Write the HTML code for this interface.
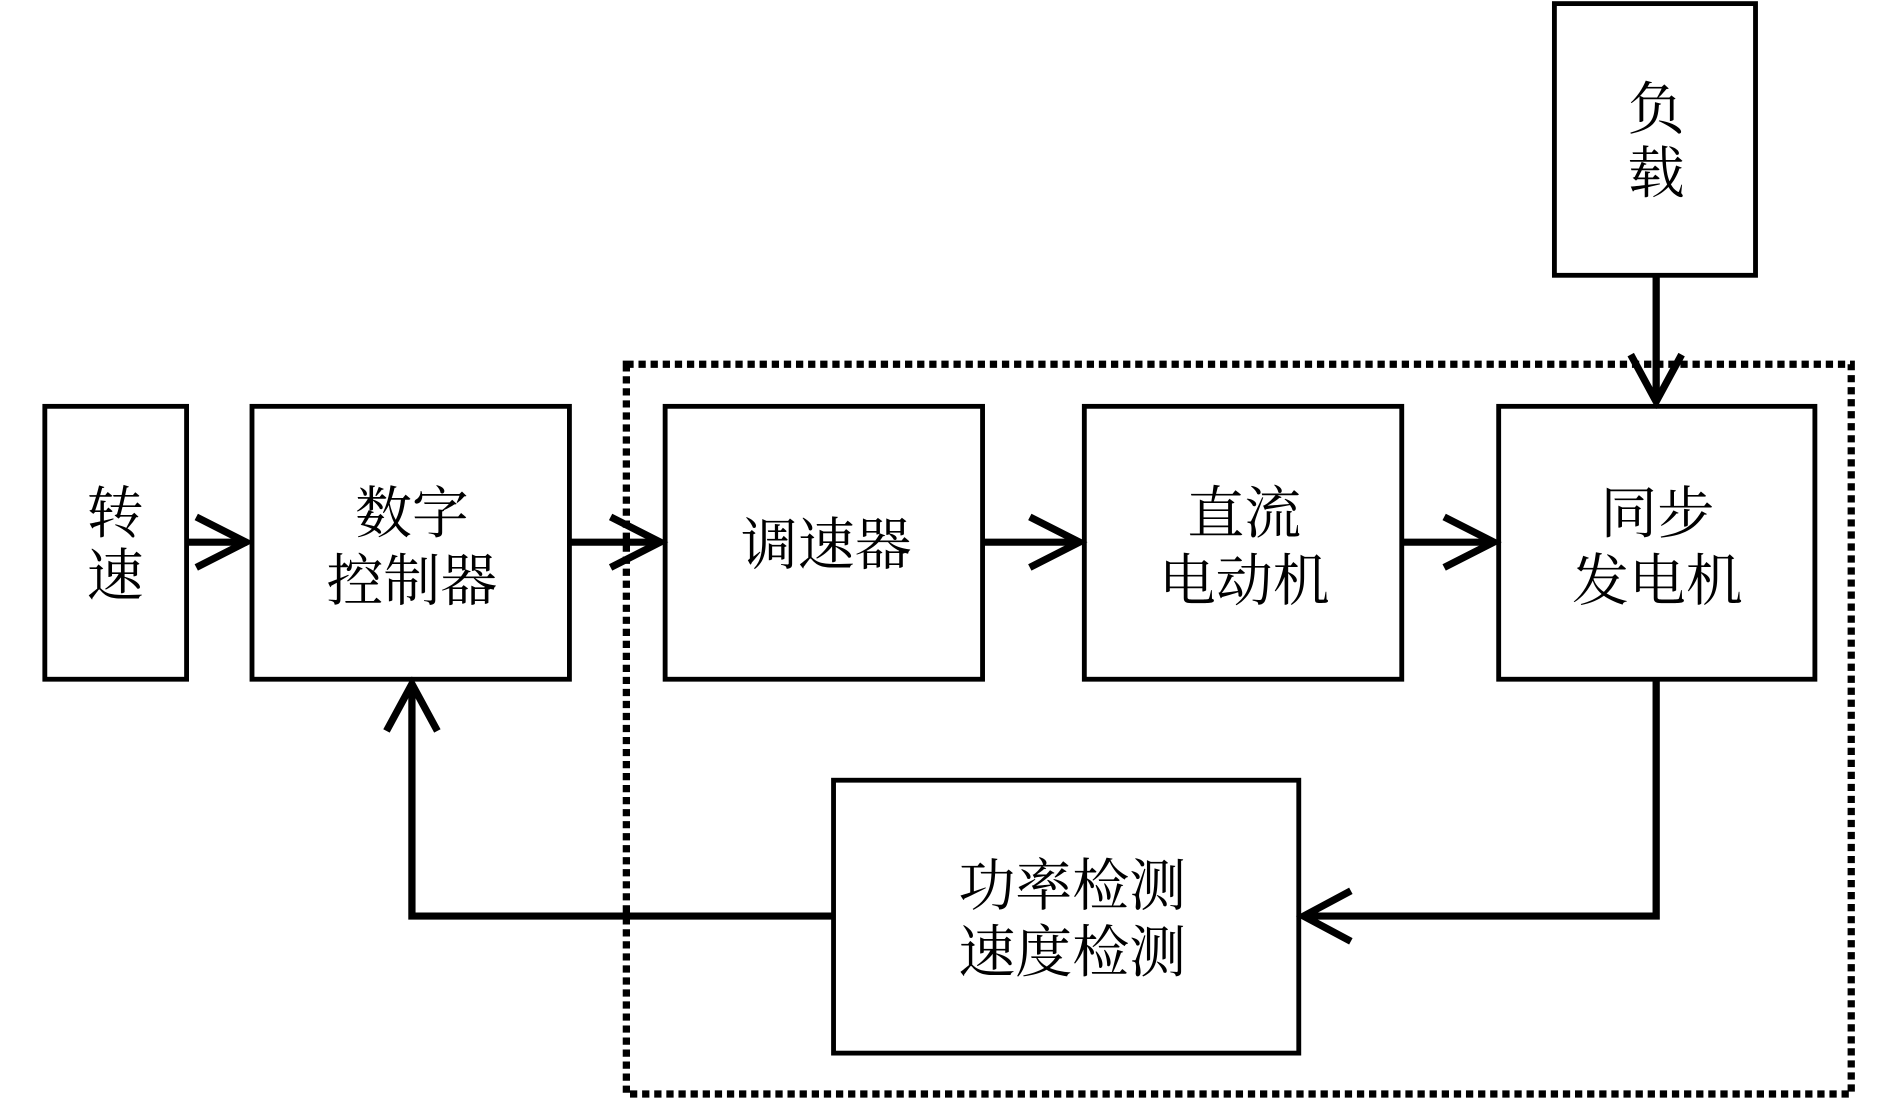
<!DOCTYPE html>
<html><head><meta charset="utf-8"><style>
html,body{margin:0;padding:0;background:#fff;width:1890px;height:1100px;overflow:hidden}
svg{display:block}
text{font-family:"Liberation Serif","Noto Serif CJK SC",serif;font-size:47px;fill:#000;text-anchor:middle}
</style></head><body>
<svg width="1890" height="1100" viewBox="0 0 1560 915" preserveAspectRatio="none">
<g fill="none" stroke="#000" stroke-width="4">
<rect x="37" y="338" width="117" height="227"/>
<rect x="208" y="338" width="262" height="227"/>
<rect x="549" y="338" width="262" height="227"/>
<rect x="895" y="338" width="262" height="227"/>
<rect x="1237" y="338" width="261" height="227"/>
<rect x="1283" y="3" width="166" height="226"/>
<rect x="688" y="649" width="384" height="227"/>
</g>
<rect x="517" y="303" width="1011" height="607" fill="none" stroke="#000" stroke-width="6" stroke-dasharray="6,4"/>
<g fill="none" stroke="#000" stroke-width="6">
<line x1="154" y1="451" x2="204" y2="451"/><polyline points="162,430 203,451 162,472"/>
<line x1="470" y1="451" x2="545" y2="451"/><polyline points="504,430 545,451 504,472"/>
<line x1="811" y1="451" x2="891" y2="451"/><polyline points="850,430 891,451 850,472"/>
<line x1="1157" y1="451" x2="1233" y2="451"/><polyline points="1192,430 1233,451 1192,472"/>
<line x1="1367" y1="229" x2="1367" y2="334"/><polyline points="1346,295 1367,334 1388,295"/>
<polyline points="1367,565 1367,762 1076,762"/><polyline points="1115,741 1076,762 1115,783"/>
<polyline points="688,762 340,762 340,569"/><polyline points="319,608 340,569 361,608"/>
</g>
<text x="95" y="443">转</text><text x="95" y="495">速</text>
<text x="340" y="443">数字</text><text x="340" y="499">控制器</text>
<text x="682" y="469">调速器</text>
<text x="1027" y="443">直流</text><text x="1027" y="499">电动机</text>
<text x="1368" y="443">同步</text><text x="1368" y="499">发电机</text>
<text x="1367" y="107">负</text><text x="1367" y="160">载</text>
<text x="885" y="753">功率检测</text><text x="885" y="808">速度检测</text>
</svg>
</body></html>
